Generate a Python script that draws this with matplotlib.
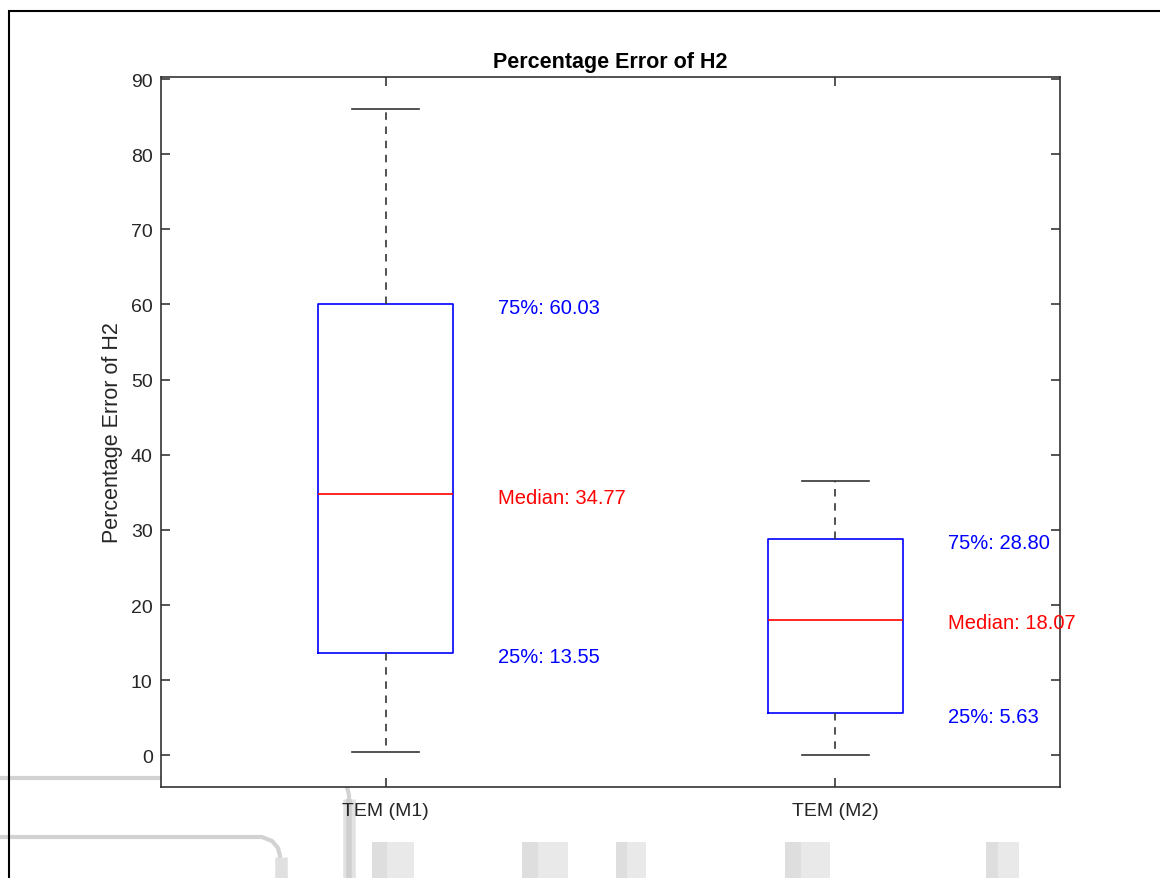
import matplotlib
matplotlib.use("Agg")
import matplotlib.pyplot as plt
from matplotlib.patches import Rectangle
from matplotlib.lines import Line2D

plt.rcParams['font.family'] = ['Liberation Sans', 'DejaVu Sans']

# Box statistics for each model
categories = ["TEM (M1)", "TEM (M2)"]
q1_values = [13.55, 5.63]
median_values = [34.77, 18.07]
q3_values = [60.03, 28.80]
whisker_low = [0.48, 0.08]
whisker_high = [86.06, 36.48]
y_ticks = [0, 10, 20, 30, 40, 50, 60, 70, 80, 90]

AX_COLOR = '#262626'

fig = plt.figure(figsize=(11.6, 8.79), dpi=100)
ax = fig.add_axes([161 / 1160, 91 / 879, 899 / 1160, 710 / 879])

stats = []
for i, name in enumerate(categories):
    stats.append(dict(label=name, med=median_values[i], q1=q1_values[i],
                      q3=q3_values[i], whislo=whisker_low[i],
                      whishi=whisker_high[i], fliers=[]))

positions = list(range(1, len(categories) + 1))
ax.bxp(stats, positions=positions, widths=0.3, showfliers=False,
       boxprops=dict(color='#0000ff', linewidth=1.2),
       medianprops=dict(color='#ff0000', linewidth=1.2),
       whiskerprops=dict(color='#333333', linewidth=1.2, linestyle=(0, (4.5, 4))),
       capprops=dict(color='#333333', linewidth=1.2))

# Quartile and median annotations to the right of each box
for pos, q1, med, q3 in zip(positions, q1_values, median_values, q3_values):
    tx = pos + 0.25
    for val, txt, col in [(q3, f"75%: {q3:.2f}", '#0000ff'),
                          (med, f"Median: {med:.2f}", '#ff0000'),
                          (q1, f"25%: {q1:.2f}", '#0000ff')]:
        ax.annotate(txt, xy=(tx, val), xytext=(0, -2.5),
                    textcoords='offset points', color=col, fontsize=14.5,
                    ha='left', va='center', annotation_clip=False)

ax.set_xlim(0.5, 2.5)
ax.set_ylim(-4.22, 90.27)
ax.set_yticks(y_ticks)
ax.set_xticks(positions)
ax.set_xticklabels(categories)

ax.tick_params(direction='in', length=6.5, width=1.1, color=AX_COLOR,
               labelcolor=AX_COLOR, labelsize=14, top=True, right=True)
ax.tick_params(axis='x', pad=11)
ax.tick_params(axis='y', pad=6)
for sp in ax.spines.values():
    sp.set_color('#333333')
    sp.set_linewidth(1.2)

ax.set_title("Percentage Error of H2", fontsize=15.5, fontweight='bold',
             color='black', pad=7)
ax.set_ylabel("Percentage Error of H2", fontsize=15.5, color=AX_COLOR,
              labelpad=5.5)

# Outer frame and faint background logo strokes, in pixel units
tr = fig.dpi_scale_trans
H = 879.0


def px(x, y):
    return x / 100.0, (H - y) / 100.0


def stroke(points, width, color):
    xs = [p[0] / 100.0 for p in points]
    ys = [(H - p[1]) / 100.0 for p in points]
    fig.add_artist(Line2D(xs, ys, transform=tr, linewidth=width, color=color,
                          solid_capstyle='butt', zorder=-5))


stroke([(-5, 779), (334, 779), (342, 782), (347, 788), (349, 796), (349, 900)],
       3.0, '#d2d2d2')
stroke([(349, 800), (349, 900)], 9, '#e2e2e2')
stroke([(349, 800), (349, 900)], 4, '#cfcfcf')
stroke([(-5, 838), (262, 838), (272, 842), (278, 849), (280, 857), (280, 900)],
       3.0, '#d2d2d2')
stroke([(281, 858), (281, 900)], 9, '#e0e0e0')

for x0, x1 in [(372, 414), (522, 568), (616, 646), (785, 830), (986, 1019)]:
    x_in, y_in = px(x0, 900)
    fig.add_artist(Rectangle((x_in, y_in), (x1 - x0) / 100.0, (900 - 843) / 100.0,
                             transform=tr, facecolor='#e9e9e9', edgecolor='none',
                             zorder=-6))
    fig.add_artist(Rectangle((x_in, y_in), (x1 - x0) * 0.35 / 100.0,
                             (900 - 843) / 100.0, transform=tr,
                             facecolor='#dedede', edgecolor='none', zorder=-5))

bx, by = px(9, 900)
fig.add_artist(Rectangle((bx, by), 12.0, (900 - 12) / 100.0, transform=tr,
                         facecolor='none', edgecolor='black', linewidth=1.5,
                         zorder=10))

fig.savefig("out.png", dpi=100)
